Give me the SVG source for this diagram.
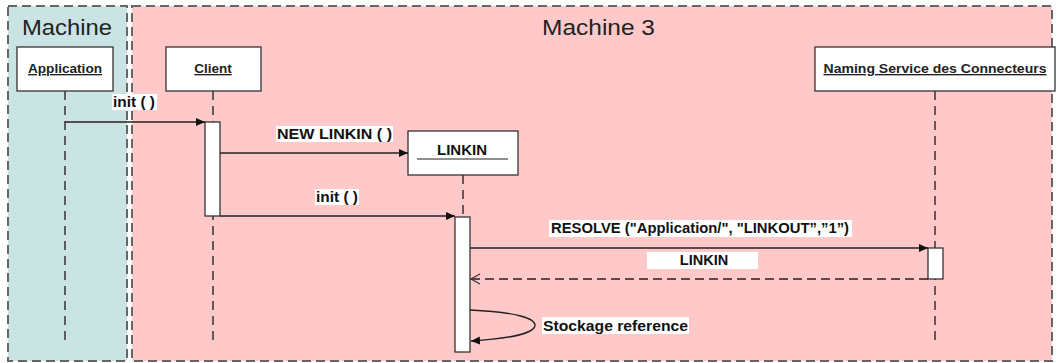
<svg xmlns="http://www.w3.org/2000/svg" width="1057" height="363" viewBox="0 0 1057 363">
<style>
.frame{stroke:#666;stroke-width:2;stroke-dasharray:9 5}
.title{font-family:"Liberation Sans",Arial,sans-serif;font-size:22px;fill:#222}
.box{fill:#fff;stroke:#333;stroke-width:1.3}
.name{font-family:"Liberation Sans",Arial,sans-serif;font-size:13.5px;font-weight:bold;fill:#222;text-anchor:middle;text-decoration:underline}
.life{stroke:#333;stroke-width:1.5;stroke-dasharray:9 6;fill:none}
.act{fill:#fff;stroke:#333;stroke-width:1.3}
.msg{stroke:#222;stroke-width:1.3;fill:none}
.ret{stroke:#222;stroke-width:1.3;fill:none;stroke-dasharray:9 5}
.lbl{font-family:"Liberation Sans",Arial,sans-serif;font-size:14.5px;font-weight:bold;fill:#111}
.lblbg{fill:#fff}
</style>
<defs>
<marker id="fill" markerWidth="10" markerHeight="10" refX="9" refY="5" orient="auto" markerUnits="userSpaceOnUse">
<path d="M0,1 L9,5 L0,9 Z" fill="#111"/>
</marker>
<marker id="open" markerWidth="12" markerHeight="12" refX="10" refY="6" orient="auto" markerUnits="userSpaceOnUse">
<path d="M1,1 L10,6 L1,11" fill="none" stroke="#333" stroke-width="1.2"/>
</marker>
</defs>
<rect width="1057" height="363" fill="#fff"/>
<g id="frame-machine">
<rect class="frame" x="8" y="6" width="119" height="355" fill="#c9e4e3"/>
<text class="title" x="22" y="35" textLength="90" lengthAdjust="spacingAndGlyphs">Machine</text>
</g>
<g id="frame-machine3">
<rect class="frame" x="132" y="6" width="920" height="355" fill="#ffc9c9"/>
<text class="title" x="542" y="35" textLength="113" lengthAdjust="spacingAndGlyphs">Machine 3</text>
</g>
<g id="lifelines">
<line class="life" x1="65" y1="91" x2="65" y2="344"/>
<line class="life" x1="213" y1="91" x2="213" y2="344"/>
<line class="life" x1="463" y1="175" x2="463" y2="217"/>
<line class="life" x1="935" y1="91" x2="935" y2="346"/>
</g>
<g id="node-application">
<rect class="box" x="17" y="47" width="96" height="44"/>
<text class="name" x="65" y="73" textLength="74" lengthAdjust="spacingAndGlyphs">Application</text>
</g>
<g id="node-client">
<rect class="box" x="166" y="47" width="95" height="44"/>
<text class="name" x="213" y="73">Client</text>
</g>
<g id="node-linkin">
<rect class="box" x="408" y="131" width="110" height="44"/>
<text x="462" y="155" font-family="'Liberation Sans',Arial,sans-serif" font-size="15" font-weight="bold" fill="#111" text-anchor="middle">LINKIN</text>
<line x1="417" y1="159" x2="508" y2="159" stroke="#222" stroke-width="1.2"/>
</g>
<g id="node-naming">
<rect class="box" x="815" y="47" width="240" height="44"/>
<text class="name" x="935" y="73" textLength="223" lengthAdjust="spacingAndGlyphs">Naming Service des Connecteurs</text>
</g>
<g id="activations">
<rect class="act" x="205" y="122" width="15" height="94"/>
<rect class="act" x="455" y="217" width="15" height="135"/>
<rect class="act" x="928" y="248" width="15" height="31"/>
</g>
<g id="connectors">
<line class="msg" x1="65" y1="122" x2="205" y2="122" marker-end="url(#fill)"/>
<line class="msg" x1="220" y1="153" x2="408" y2="153" marker-end="url(#fill)"/>
<line class="msg" x1="220" y1="216" x2="455" y2="216" marker-end="url(#fill)"/>
<line class="msg" x1="470" y1="248" x2="928" y2="248" marker-end="url(#fill)"/>
<line class="ret" x1="928" y1="279" x2="471" y2="279" marker-end="url(#open)"/>
<path class="msg" d="M470,310 C515,312 536,318 535,326 C533,334 505,339 471,341" marker-end="url(#fill)"/>
</g>
<g id="labels">
<rect class="lblbg" x="112" y="94" width="45" height="16"/>
<text class="lbl" x="113" y="107" textLength="42" lengthAdjust="spacingAndGlyphs">init ( )</text>
<rect class="lblbg" x="276" y="126" width="117" height="16"/>
<text class="lbl" x="277" y="139" textLength="115" lengthAdjust="spacingAndGlyphs">NEW LINKIN ( )</text>
<rect class="lblbg" x="315" y="189" width="44" height="16"/>
<text class="lbl" x="316" y="202" textLength="42" lengthAdjust="spacingAndGlyphs">init ( )</text>
<rect class="lblbg" x="549" y="220" width="303" height="17"/>
<text class="lbl" x="551" y="233" textLength="298" lengthAdjust="spacingAndGlyphs">RESOLVE ("Application/", "LINKOUT”,”1”)</text>
<rect class="lblbg" x="647" y="252" width="111" height="17"/>
<text class="lbl" x="704" y="265" text-anchor="middle">LINKIN</text>
<rect class="lblbg" x="542" y="317" width="147" height="17"/>
<text class="lbl" x="543" y="331" textLength="145" lengthAdjust="spacingAndGlyphs">Stockage reference</text>
</g>
</svg>
